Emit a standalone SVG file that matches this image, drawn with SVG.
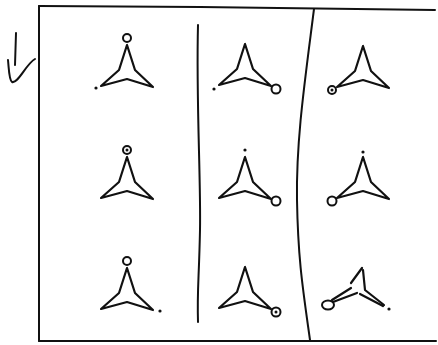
<svg xmlns="http://www.w3.org/2000/svg" width="438" height="345" viewBox="0 0 438 345">
<style>
.ln{fill:none;stroke:#111;stroke-width:2;stroke-linecap:round;stroke-linejoin:round}
.st{fill:none;stroke:#111;stroke-width:2.2;stroke-linejoin:round;stroke-linecap:round}
.oc{fill:#fff;stroke:#111;stroke-width:2}
.dt{fill:#111}
</style>
<defs>
<path id="star" class="st" d="M0,0 L-8,25 L-26,41 L0,34 L26,42 L8,25 Z"/>
</defs>
<rect width="438" height="345" fill="#fff"/>
<g id="frame">
<path class="ln" d="M39,6 L200,7 L435,10"/>
<path class="ln" d="M39,6 L39,341"/>
<path class="ln" d="M39,341 L436,341"/>
<path class="ln" d="M198,25 C196,100 201,180 200,230 S197,290 198,322"/>
<path class="ln" d="M314,9 C305,80 296,140 297,200 S303,290 310,340"/>
</g>
<g id="arrow">
<path class="ln" d="M16,33 L15,65"/>
<path class="ln" d="M8,60 C9,70 9,80 12,82 C18,84 26,64 35,59"/>
</g>
<g id="cell-1">
<use href="#star" transform="translate(127,45)"/>
<circle class="oc" cx="127" cy="38" r="4"/>
<circle class="dt" cx="96" cy="88" r="1.6"/>
</g>
<g id="cell-2">
<use href="#star" transform="translate(245,44)"/>
<circle class="dt" cx="214" cy="89" r="1.6"/>
<circle class="oc" cx="276" cy="89" r="4.5"/>
</g>
<g id="cell-3">
<use href="#star" transform="translate(363,46)"/>
<circle class="oc" cx="332" cy="90" r="4"/>
<circle class="dt" cx="332" cy="90" r="1.5"/>
</g>
<g id="cell-4">
<use href="#star" transform="translate(127,157)"/>
<circle class="oc" cx="127" cy="150" r="4"/>
<circle class="dt" cx="127" cy="150" r="1.5"/>
</g>
<g id="cell-5">
<use href="#star" transform="translate(245,157)"/>
<circle class="dt" cx="245" cy="150" r="1.6"/>
<circle class="oc" cx="276" cy="201" r="4.5"/>
</g>
<g id="cell-6">
<use href="#star" transform="translate(363,157)"/>
<circle class="dt" cx="363" cy="152" r="1.6"/>
<circle class="oc" cx="332" cy="201" r="4.5"/>
</g>
<g id="cell-7">
<use href="#star" transform="translate(127,268)"/>
<circle class="oc" cx="127" cy="261" r="4"/>
<circle class="dt" cx="160" cy="311" r="1.6"/>
</g>
<g id="cell-8">
<use href="#star" transform="translate(245,267)"/>
<circle class="oc" cx="276" cy="312" r="4.5"/>
<circle class="dt" cx="276" cy="312" r="1.5"/>
</g>
<g id="cell-9">
<path class="st" d="M362,268 L351,283"/>
<path class="st" d="M363,270 L365,290 L384,305"/>
<path class="st" d="M360,294 L383,306"/>
<path class="st" d="M332,300 L351,288"/>
<path class="st" d="M333,302 L357,293"/>
<ellipse class="oc" cx="328" cy="305" rx="6" ry="4.5"/>
<circle class="dt" cx="389" cy="309" r="1.6"/>
</g>
</svg>
